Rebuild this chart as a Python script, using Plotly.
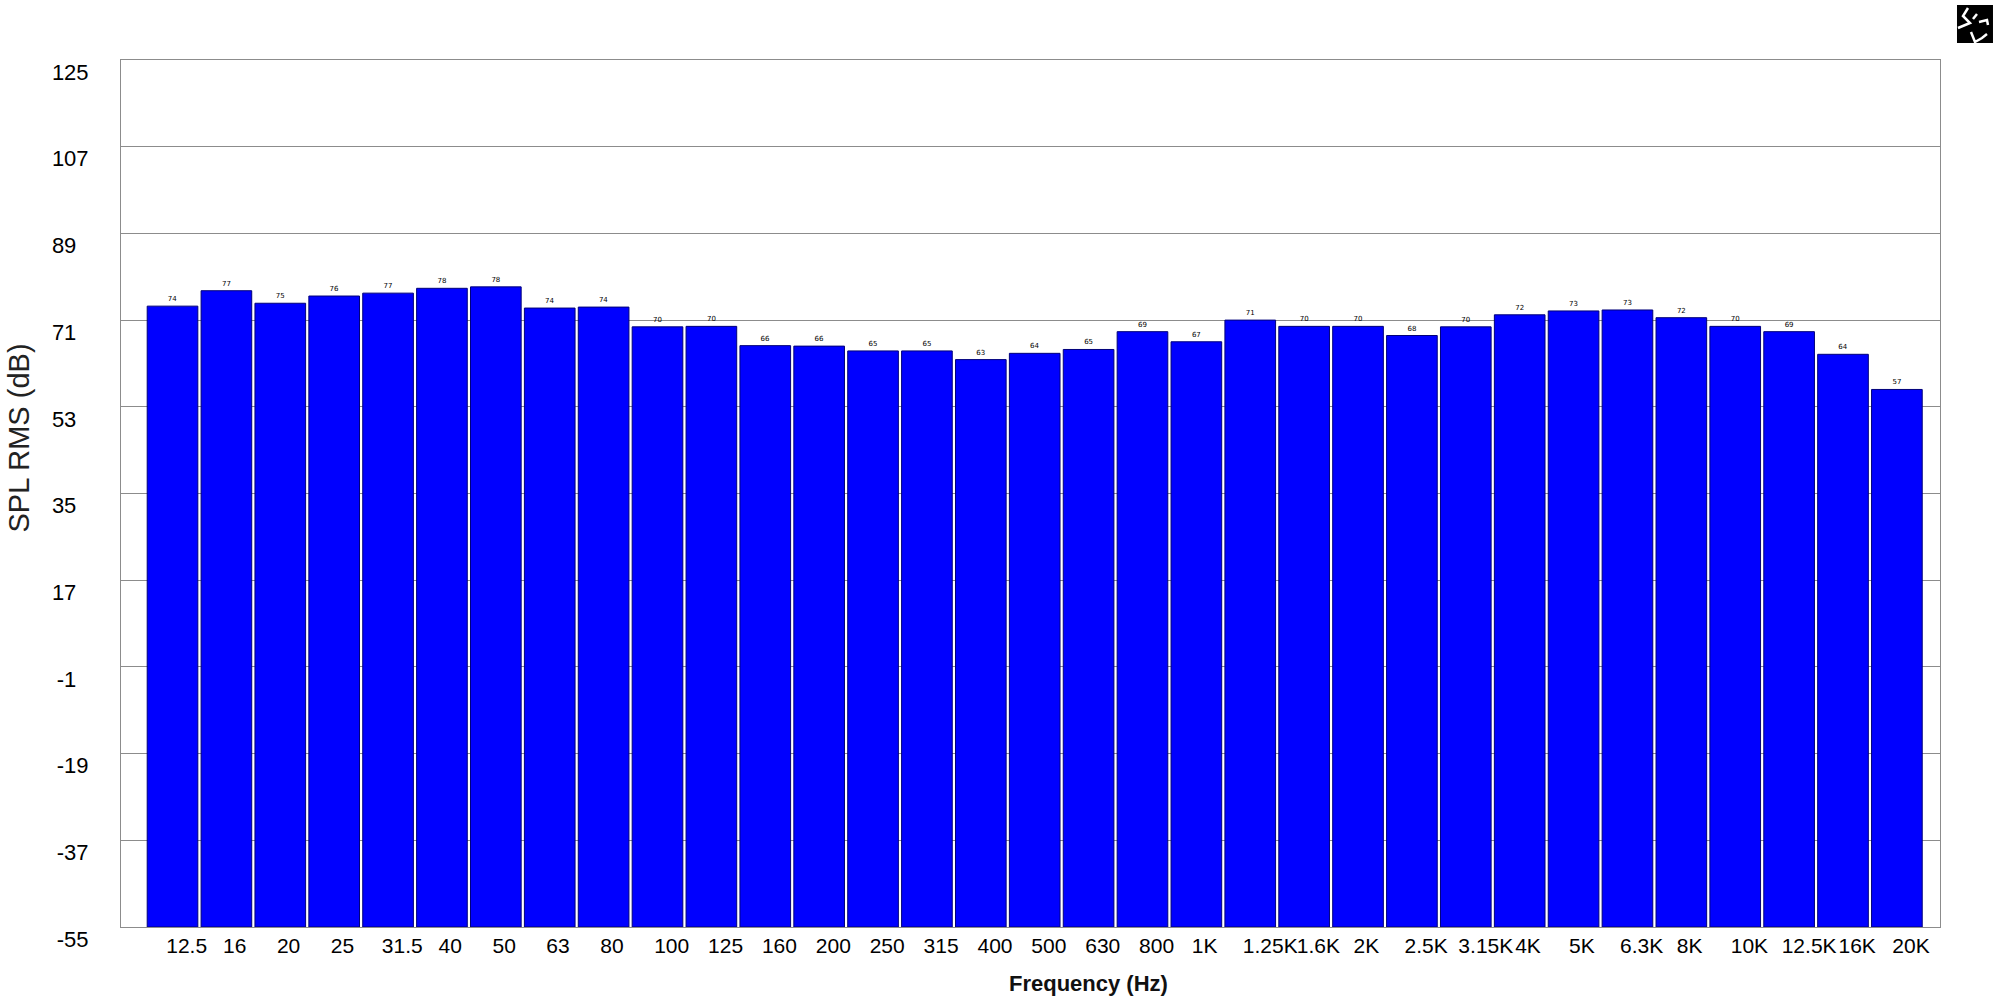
import plotly.graph_objects as go

freq_labels = ["12.5","16","20","25","31.5","40","50","63","80","100","125","160","200","250","315","400","500","630","800","1K","1.25K","1.6K","2K","2.5K","3.15K","4K","5K","6.3K","8K","10K","12.5K","16K","20K"]
spl_values = [73.9,77.1,74.5,76.0,76.6,77.6,77.9,73.5,73.7,69.6,69.7,65.7,65.6,64.6,64.6,62.8,64.1,64.9,68.6,66.5,71.0,69.7,69.7,67.8,69.6,72.1,72.9,73.1,71.5,69.7,68.6,63.9,56.6]
value_labels = ["74","77","75","76","77","78","78","74","74","70","70","66","66","65","65","63","64","65","69","67","71","70","70","68","70","72","73","73","72","70","69","64","57"]
y_ticks = [125,107,89,71,53,35,17,-1,-19,-37,-55]

FS = "\u2007"
def em(s):
    return sum({".":0.278,"K":0.667,"-":0.333}.get(c,0.556) for c in s)
def pad_x(s):
    return s + FS*max(0, round((2.5-em(s))/0.556))
def pad_y(t):
    s = str(t)
    return s + FS*round((1.668-em(s))/0.556)

W, H = 2000, 1000
L, R, T, B = 120.5, 60, 60, 73
def px(x): return (x-L)/(W-L-R)
def py(y): return 1-(y-T)/(H-T-B)

fig = go.Figure(go.Bar(
    x=list(range(len(freq_labels))), y=[v+55 for v in spl_values], base=-55,
    width=0.94,
    marker=dict(color="#0000ff", line=dict(color="#00007a", width=1)),
    text=value_labels, textposition="outside", cliponaxis=False,
    textfont=dict(family="DejaVu Sans", size=7, color="#000000"),
    showlegend=False,
))
fig.update_layout(
    width=W, height=H, autosize=False,
    margin=dict(l=L, r=R, t=T, b=B),
    plot_bgcolor="#ffffff", paper_bgcolor="#ffffff",
    font=dict(family="Liberation Sans", color="#000000"),
    xaxis=dict(
        range=[-0.956, 32.80], tickmode="array",
        tickvals=list(range(len(freq_labels))), ticktext=[pad_x(s) for s in freq_labels],
        showgrid=False, zeroline=False, ticks="", tickangle=0, tickfont=dict(size=21),
        showline=True, linecolor="#8c8c8c", linewidth=1, mirror=True, ticklabelshift=20, automargin=False,
    ),
    yaxis=dict(
        range=[-55,125], tickmode="array",
        tickvals=y_ticks, ticktext=[pad_y(t) for t in y_ticks],
        showgrid=True, gridcolor="#8c8c8c", gridwidth=1, zeroline=False, ticks="",
        tickfont=dict(size=22), ticklabelshift=12, ticklabelstandoff=27,
        showline=True, linecolor="#8c8c8c", linewidth=1, mirror=True, automargin=False,
    ),
    annotations=[
        dict(text="SPL RMS (dB)", xref="paper", yref="paper", x=px(18), y=py(438), xanchor="center", yanchor="middle", textangle=-90,
             showarrow=False, font=dict(size=29, color="#222222")),
        dict(text="Frequency (Hz)", xref="paper", yref="paper", x=px(1088), y=py(984), xanchor="center", yanchor="middle",
             showarrow=False, font=dict(size=22, color="#111111", family="Liberation Sans", weight=700)),
    ],
)

# top-right logo
fig.add_shape(type="rect", xref="paper", yref="paper", x0=px(1957), x1=px(1993), y0=py(5), y1=py(43),
              fillcolor="#000000", line=dict(width=0))
for pts in [[(1968,8),(1963,16),(1970,23),(1958,28)], [(1979,22),(1987,20),(1988,25)], [(1971,32),(1975,42),(1982,38),(1987,34)], [(1977,14),(1973,19)]]:
    path = "M " + " L ".join(f"{px(a)} {py(b)}" for a,b in pts)
    fig.add_shape(type="path", xref="paper", yref="paper", path=path, line=dict(color="#ffffff", width=2.5))

fig.write_html("out.html", config=dict(displayModeBar=False), post_script="document.body.style.margin='0';document.body.style.overflow='hidden';")
